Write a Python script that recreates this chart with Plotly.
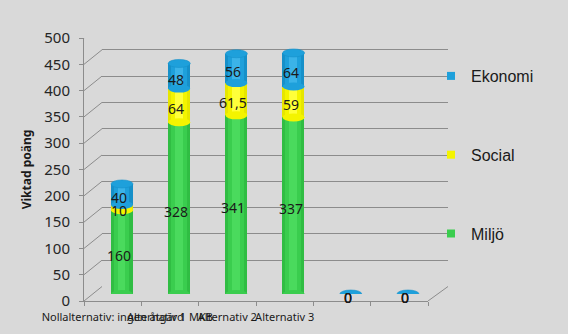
import plotly.graph_objects as go

# ---------------- data ----------------
categories = ["Nollalternativ: ingen åtgärd", "Alternativ 1 MKB", "Alternativ 2", "Alternativ 3", "", ""]
miljo = [160, 328, 341, 337, 0, 0]
social = [10, 64, 61.5, 59, 0, 0]
ekonomi = [40, 48, 56, 64, 0, 0]
y_ticks = [0, 50, 100, 150, 200, 250, 300, 350, 400, 450, 500]
y_title = "Viktad poäng"

# ---------------- styling ----------------
W, H = 568, 334
def px(x):
    return x / W
def py(y):
    return 1 - y / H

BG = "#d9d9d9"
GRID = "#8c8c8c"
FONT = "Noto Sans"

series = [
    ("Miljö", miljo, ["#30bd43", "#3acd4e", "#4ada5d"]),
    ("Social", social, ["#e6e600", "#f4f400", "#ffff3a"]),
    ("Ekonomi", ekonomi, ["#1690c9", "#1ea0db", "#3bb3e8"]),
]
BAR_W = 0.385
layer_widths = [BAR_W, 0.27, 0.13]
n = len(categories)
idx = list(range(n))

fig = go.Figure()

# back-wall grid subplot (drawn first) - legend entries live here
for gi, (name, vals, cols) in enumerate(reversed(series)):
    fig.add_trace(go.Scatter(
        x=[None], y=[None], mode="markers", name=name,
        marker=dict(symbol="square", size=8, color=cols[1]),
        legendgroup=f"g{gi}", xaxis="x", yaxis="y"))

# front axes subplot
fig.add_trace(go.Scatter(x=[None], y=[None], xaxis="x2", yaxis="y2", showlegend=False,
                         hoverinfo="skip"))

# stacked cylinders (manual stacking via base, overlay mode)
base = [0.0] * n
bases = []
for name, vals, cols in series:
    bases.append(list(base))
    for w, c in zip(layer_widths, cols):
        fig.add_trace(go.Bar(
            x=idx, y=vals, base=list(base), width=w,
            marker=dict(color=c, line=dict(width=0)),
            xaxis="x3", yaxis="y3", showlegend=False, hoverinfo="skip"))
    base = [b + v for b, v in zip(base, vals)]
totals = base

shapes = []
yu = 500 / 262
ry = 4 * yu
rx = BAR_W / 2
for i in idx:
    if miljo[i] > 0:
        shapes.append(dict(type="circle", xref="x3", yref="y3",
                           x0=i - rx, x1=i + rx, y0=-ry, y1=ry,
                           fillcolor=series[0][2][1], line=dict(width=0), layer="above"))
    for s in (1, 2):
        if series[s][1][i] > 0:
            b = bases[s][i]
            shapes.append(dict(type="circle", xref="x3", yref="y3",
                               x0=i - rx, x1=i + rx, y0=b - ry, y1=b + ry,
                               fillcolor=series[s][2][1], line=dict(width=0), layer="above"))
    t = totals[i]
    shapes.append(dict(type="circle", xref="x3", yref="y3",
                       x0=i - rx, x1=i + rx, y0=t - ry, y1=t + ry,
                       fillcolor=series[2][2][1], line=dict(color=series[2][2][0], width=0.6),
                       layer="above"))

# 3D grid connectors (front axis -> back wall)
dy_back = 14.5 * 500 / 263
for v in y_ticks:
    shapes.append(dict(type="line", xref="paper", yref="y2",
                       x0=px(84), x1=px(102), y0=v, y1=v + dy_back,
                       line=dict(color=GRID, width=1), layer="below"))
shapes.append(dict(type="line", xref="paper", yref="y2",
                   x0=px(428), x1=px(448), y0=0, y1=dy_back,
                   line=dict(color=GRID, width=1), layer="below"))

# data labels
annotations = []
def fmt(v):
    return f"{v:g}".replace(".", ",")
for s, (name, vals, cols) in enumerate(series):
    for i in idx:
        yc = bases[s][i] + vals[i] / 2
        annotations.append(dict(x=i, y=yc, xref="x3", yref="y3", text=fmt(vals[i]),
                                showarrow=False, xshift=-3, yshift=-3,
                                font=dict(family=FONT, size=14, color="#1a1a1a")))

fig.update_layout(
    width=W, height=H,
    margin=dict(l=0, r=0, t=0, b=0),
    paper_bgcolor=BG, plot_bgcolor="rgba(0,0,0,0)",
    barmode="overlay", bargap=0,
    shapes=shapes, annotations=annotations,
    showlegend=True,
    legend=dict(x=px(431), y=py(59), xanchor="left", yanchor="top",
                bgcolor="rgba(0,0,0,0)", tracegroupgap=55, traceorder="grouped",
                font=dict(family="Liberation Sans", size=16, color="#1a1a1a"),
                itemsizing="trace"),
    # back wall grid
    xaxis=dict(domain=[px(102), px(448)], range=[0, 1], visible=False, anchor="y",
               fixedrange=True),
    yaxis=dict(domain=[py(286.5), py(23.5)], range=[0, 500], tickvals=y_ticks,
               showgrid=True, gridcolor=GRID, gridwidth=1, showticklabels=False,
               ticks="", zeroline=False, showline=False, anchor="x", automargin=False,
               fixedrange=True),
    # front axes (ticks, labels)
    xaxis2=dict(domain=[px(84), px(428)], range=[-0.5, n - 0.5],
                tickvals=idx, ticktext=categories, ticks="", showgrid=False, zeroline=False,
                showline=True, linecolor=GRID, linewidth=1, tickangle=0, automargin=False,
                minor=dict(tickvals=[i - 0.5 for i in range(n + 1)], ticks="outside",
                           ticklen=4, tickcolor=GRID, showgrid=False),
                tickfont=dict(family=FONT, size=11, color="#1a1a1a"),
                ticklabelstandoff=6, anchor="y2", fixedrange=True),
    yaxis2=dict(domain=[py(301), py(38)], range=[0, 500], tickvals=y_ticks,
                ticks="outside", ticklen=4, tickcolor=GRID, showgrid=False, zeroline=False,
                showline=True, linecolor=GRID, linewidth=1, automargin=False,
                tickfont=dict(family=FONT, size=15, color="#262626"),
                ticklabelstandoff=6,
                anchor="x2", fixedrange=True,
                title=dict(text=y_title, standoff=10,
                           font=dict(family=FONT, size=12, color="#1a1a1a", weight="bold"))),
    # bars
    xaxis3=dict(domain=[px(93.4), px(436.6)], range=[-0.5, n - 0.5], visible=False,
                anchor="y3", fixedrange=True),
    yaxis3=dict(domain=[py(294), py(32)], range=[0, 500], visible=False,
                anchor="x3", fixedrange=True),
)

fig.write_html("out.html")
